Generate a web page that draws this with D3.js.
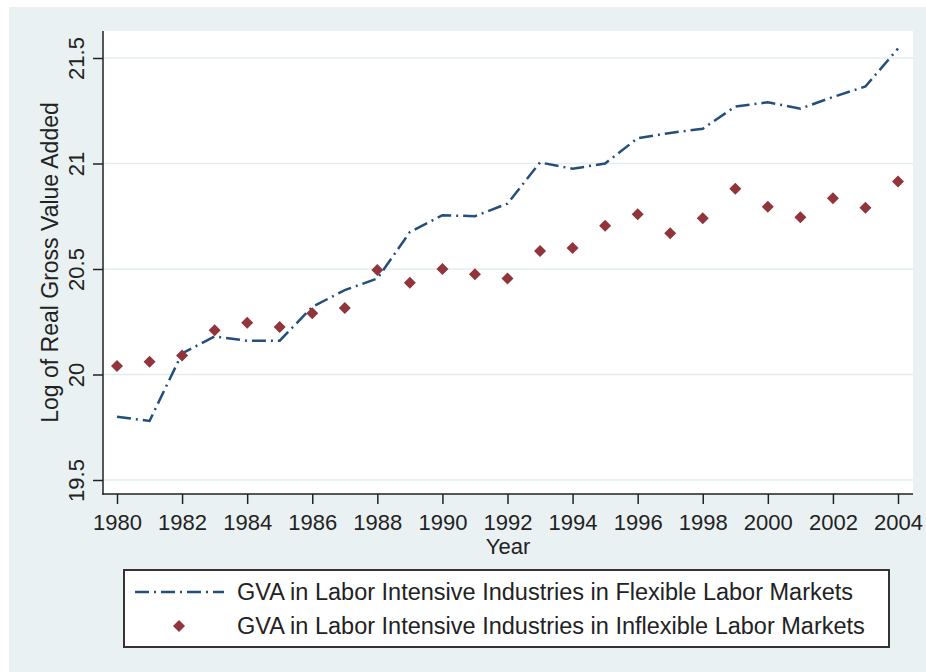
<!DOCTYPE html>
<html>
<head>
<meta charset="utf-8">
<script src="https://cdn.jsdelivr.net/npm/d3@7"></script>
<style>
  body { margin: 0; background: #fff; }
  svg { display: block; font-family: "Liberation Sans", Arial, sans-serif; }
</style>
</head>
<body>
<div id="chart"></div>
<script>
// years 1980..2004
var years = [1980, 1981, 1982, 1983, 1984, 1985, 1986, 1987, 1988, 1989, 1990, 1991,
             1992, 1993, 1994, 1995, 1996, 1997, 1998, 1999, 2000, 2001, 2002, 2003, 2004];

// log GVA, flexible labor markets (dash-dot line)
var flexible = [19.80, 19.78, 20.10, 20.18, 20.16, 20.16, 20.32, 20.40, 20.455, 20.675, 20.755, 20.75,
                20.81, 21.005, 20.975, 21.0, 21.12, 21.145, 21.165, 21.27, 21.29, 21.26, 21.315, 21.365, 21.545];

// log GVA, inflexible labor markets (diamonds)
var inflexible = [20.04, 20.06, 20.09, 20.21, 20.245, 20.225, 20.29, 20.315, 20.495, 20.435, 20.50, 20.475,
                  20.455, 20.585, 20.60, 20.705, 20.76, 20.67, 20.74, 20.88, 20.795, 20.745, 20.835, 20.79, 20.915];

var yTicks = [19.5, 20, 20.5, 21, 21.5];
var xTicks = [1980, 1982, 1984, 1986, 1988, 1990, 1992, 1994, 1996, 1998, 2000, 2002, 2004];

var legendLabels = ["GVA in Labor Intensive Industries in Flexible Labor Markets",
                    "GVA in Labor Intensive Industries in Inflexible Labor Markets"];

var W = 926, H = 672;
var navy = "#234f7a", maroon = "#90353b", bg = "#eaf1f3", grid = "#e2ecef";
var dashDot = "14,5,2,5";

var plot = {left: 103, right: 913, top: 31, bottom: 494};

var svg = d3.select("#chart").append("svg")
    .attr("width", W)
    .attr("height", H);

// graph region
svg.append("rect")
    .attr("x", 9).attr("y", 7)
    .attr("width", W - 9).attr("height", H - 7)
    .attr("fill", bg);

// plot region
svg.append("rect")
    .attr("x", plot.left).attr("y", plot.top)
    .attr("width", plot.right - plot.left).attr("height", plot.bottom - plot.top)
    .attr("fill", "#fff");

var x = d3.scaleLinear().domain([1980, 2004]).range([117, 898]);
var y = d3.scaleLinear().domain([19.5, 21.5]).range([480, 58]);

// gridlines
svg.append("g").selectAll("line")
    .data(yTicks)
    .enter().append("line")
    .attr("x1", plot.left).attr("x2", plot.right)
    .attr("y1", function (d) { return y(d); })
    .attr("y2", function (d) { return y(d); })
    .attr("stroke", grid)
    .attr("stroke-width", 1.5);

// y axis
var yAxis = svg.append("g")
    .attr("transform", "translate(" + plot.left + ",0)")
    .call(d3.axisLeft(y).tickValues(yTicks).tickSize(10).tickSizeOuter(0)
        .tickFormat(function (d) { return String(d); }));
yAxis.select(".domain").remove();
yAxis.append("line")
    .attr("x1", 0).attr("x2", 0)
    .attr("y1", plot.top).attr("y2", plot.bottom + 0.75)
    .attr("stroke", "#222").attr("stroke-width", 1.5);
yAxis.selectAll(".tick line").attr("stroke", "#222").attr("stroke-width", 1.5);
yAxis.selectAll(".tick text")
    .attr("x", null).attr("dy", null)
    .attr("transform", "translate(-19,0) rotate(-90)")
    .attr("text-anchor", "middle")
    .attr("fill", "#222")
    .style("font-size", "22px")
    .style("font-family", "Liberation Sans, Arial, sans-serif");

// x axis
var xAxis = svg.append("g")
    .attr("transform", "translate(0," + plot.bottom + ")")
    .call(d3.axisBottom(x).tickValues(xTicks).tickSize(10).tickSizeOuter(0)
        .tickFormat(d3.format("d")));
xAxis.select(".domain").remove();
xAxis.append("line")
    .attr("x1", plot.left - 0.75).attr("x2", plot.right)
    .attr("y1", 0).attr("y2", 0)
    .attr("stroke", "#222").attr("stroke-width", 1.5);
xAxis.selectAll(".tick line").attr("stroke", "#222").attr("stroke-width", 1.5);
xAxis.selectAll(".tick text")
    .attr("y", 36).attr("dy", null)
    .attr("fill", "#222")
    .style("font-size", "22px")
    .style("font-family", "Liberation Sans, Arial, sans-serif");

// axis titles
svg.append("text")
    .attr("transform", "translate(58," + ((plot.top + plot.bottom) / 2) + ") rotate(-90)")
    .attr("text-anchor", "middle")
    .attr("fill", "#222")
    .style("font-size", "23px")
    .text("Log of Real Gross Value Added");

svg.append("text")
    .attr("x", (plot.left + plot.right) / 2)
    .attr("y", 554)
    .attr("text-anchor", "middle")
    .attr("fill", "#222")
    .style("font-size", "22px")
    .text("Year");

// flexible series line
var line = d3.line()
    .x(function (d, i) { return x(years[i]); })
    .y(function (d) { return y(d); });

svg.append("path")
    .datum(flexible)
    .attr("d", line)
    .attr("fill", "none")
    .attr("stroke", navy)
    .attr("stroke-width", 2.5)
    .attr("stroke-dasharray", dashDot);

// inflexible series diamonds
var diamond = d3.symbol().type(d3.symbolSquare).size(72);
svg.append("g").selectAll("path")
    .data(inflexible)
    .enter().append("path")
    .attr("d", diamond)
    .attr("transform", function (d, i) {
        return "translate(" + x(years[i]) + "," + y(d) + ") rotate(45)";
    })
    .attr("fill", maroon);

// legend
var lg = svg.append("g");
lg.append("rect")
    .attr("x", 124).attr("y", 570)
    .attr("width", 765).attr("height", 77)
    .attr("fill", "#fff")
    .attr("stroke", "#333")
    .attr("stroke-width", 2);

lg.append("line")
    .attr("x1", 135).attr("x2", 224)
    .attr("y1", 592).attr("y2", 592)
    .attr("stroke", navy)
    .attr("stroke-width", 2.5)
    .attr("stroke-dasharray", dashDot);

lg.append("path")
    .attr("d", diamond)
    .attr("transform", "translate(179,626) rotate(45)")
    .attr("fill", maroon);

lg.selectAll("text.lbl")
    .data(legendLabels)
    .enter().append("text")
    .attr("class", "lbl")
    .attr("x", 237)
    .attr("y", function (d, i) { return 600 + i * 34; })
    .attr("fill", "#222")
    .style("font-size", "23.5px")
    .text(function (d) { return d; });
</script>
</body>
</html>
